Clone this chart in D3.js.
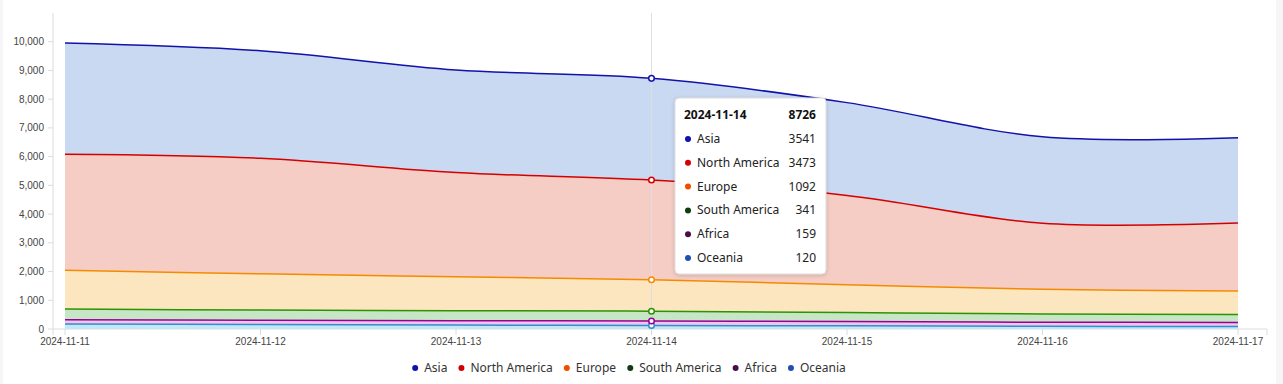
<!DOCTYPE html>
<html>
<head>
<meta charset="utf-8">
<script src="https://cdn.jsdelivr.net/npm/d3@7"></script>
<style>
  html, body { margin: 0; padding: 0; background: #f6f6f6; }
  #card { position: absolute; left: 3px; top: 0; width: 1273px; height: 384px; background: #fff; }
  svg { position: absolute; left: 0; top: 0; }
</style>
</head>
<body>
<div id="card"></div>
<svg id="chart" width="1283" height="384"></svg>
<script>
// data
const dates = ["2024-11-11", "2024-11-12", "2024-11-13", "2024-11-14", "2024-11-15", "2024-11-16", "2024-11-17"];
const asia = [3870, 3740, 3570, 3541, 3230, 3010, 2970];
const northAmerica = [4040, 4025, 3625, 3473, 3110, 2300, 2365];
const europe = [1350, 1260, 1185, 1092, 965, 855, 820];
const southAmerica = [370, 355, 345, 341, 315, 290, 275];
const africa = [150, 145, 150, 159, 150, 140, 145];
const oceania = [175, 160, 140, 120, 110, 95, 85];
const yTicks = [0, 1000, 2000, 3000, 4000, 5000, 6000, 7000, 8000, 9000, 10000];
const hoverIndex = 3;

// legend / tooltip order (top to bottom)
const series = [
  { name: "Asia", values: asia, fill: "#cad9f2", line: "#1212a8", dot: "#1010b4" },
  { name: "North America", values: northAmerica, fill: "#f6cdc4", line: "#d40000", dot: "#d20000" },
  { name: "Europe", values: europe, fill: "#fce6c0", line: "#f58a00", dot: "#f04d00" },
  { name: "South America", values: southAmerica, fill: "#c6e6c6", line: "#2b9400", dot: "#0f3c0f" },
  { name: "Africa", values: africa, fill: "#f2c4ec", line: "#960096", dot: "#4a0c4a" },
  { name: "Oceania", values: oceania, fill: "#c3e7f5", line: "#2f8fd2", dot: "#1f4fb4" },
];

const rows = dates.map((d, i) => {
  const r = { date: d3.timeParse("%Y-%m-%d")(d) };
  series.forEach((s) => (r[s.name] = s.values[i]));
  return r;
});

const svg = d3.select("#chart");

const x = d3.scaleTime()
  .domain(d3.extent(rows, (d) => d.date))
  .range([65, 1238]);
const y = d3.scaleLinear().domain([0, 11000]).range([329, 13]);

// bottom of stack is Oceania
const keys = series.map((s) => s.name).reverse();
const stacked = d3.stack().keys(keys)(rows);
const byName = Object.fromEntries(series.map((s) => [s.name, s]));

const curve = d3.curveCatmullRom.alpha(0.5);
const area = d3.area()
  .curve(curve)
  .x((d) => x(d.data.date))
  .y0((d) => y(d[0]))
  .y1((d) => y(d[1]));
const line = d3.line()
  .curve(curve)
  .x((d) => x(d.data.date))
  .y((d) => y(d[1]));

// axes
const axisColor = "#dcdcdc";
const yAxis = svg.append("g");
yAxis.append("line")
  .attr("x1", 53).attr("x2", 53).attr("y1", y(11000)).attr("y2", y(0))
  .attr("stroke", axisColor);
yAxis.selectAll("g.tick")
  .data(yTicks)
  .join("g")
  .attr("class", "tick")
  .attr("transform", (d) => `translate(0 ${y(d)})`)
  .call((g) => g.append("line").attr("x1", 48).attr("x2", 53).attr("stroke", axisColor))
  .call((g) => g.append("text")
    .attr("x", 44).attr("dy", "0.35em")
    .attr("text-anchor", "end")
    .attr("font-family", "Liberation Sans, Arial, sans-serif")
    .attr("font-size", 10)
    .attr("fill", "#444")
    .text(d3.format(",")));

const xAxis = svg.append("g").attr("transform", `translate(0 ${y(0)})`);
xAxis.append("line").attr("x1", 53).attr("x2", 1267).attr("stroke", axisColor);
[53, 1267].forEach((px) =>
  xAxis.append("line").attr("x1", px).attr("x2", px).attr("y1", 0).attr("y2", 6).attr("stroke", axisColor));
xAxis.selectAll("g.tick")
  .data(rows)
  .join("g")
  .attr("class", "tick")
  .attr("transform", (d) => `translate(${x(d.date)} 0)`)
  .call((g) => g.append("line").attr("y2", 6).attr("stroke", axisColor))
  .call((g) => g.append("text")
    .attr("y", 16)
    .attr("text-anchor", "middle")
    .attr("font-family", "Liberation Sans, Arial, sans-serif")
    .attr("font-size", 10)
    .attr("fill", "#444")
    .text((d) => d3.timeFormat("%Y-%m-%d")(d.date)));

// areas and lines
const layers = svg.append("g");
layers.selectAll("path.area")
  .data(stacked)
  .join("path")
  .attr("class", "area")
  .attr("fill", (d) => byName[d.key].fill)
  .attr("d", area);
layers.selectAll("path.line")
  .data(stacked)
  .join("path")
  .attr("class", "line")
  .attr("fill", "none")
  .attr("stroke", (d) => byName[d.key].line)
  .attr("stroke-width", 1.5)
  .attr("d", line);

// hover crosshair and markers
const hx = x(rows[hoverIndex].date);
svg.append("line")
  .attr("x1", hx).attr("x2", hx).attr("y1", y(11000)).attr("y2", y(0))
  .attr("stroke", "#dedede");
svg.append("g")
  .selectAll("circle")
  .data(stacked)
  .join("circle")
  .attr("cx", hx)
  .attr("cy", (d) => y(d[hoverIndex][1]))
  .attr("r", 2.8)
  .attr("fill", "#fff")
  .attr("stroke", (d) => byName[d.key].line)
  .attr("stroke-width", 1.5);

// tooltip
const defs = svg.append("defs");
const shadow = defs.append("filter").attr("id", "shadow").attr("x", "-20%").attr("y", "-20%").attr("width", "140%").attr("height", "140%");
shadow.append("feDropShadow").attr("dx", 0).attr("dy", 1).attr("stdDeviation", 2).attr("flood-color", "#000").attr("flood-opacity", 0.18);

const tip = svg.append("g").attr("transform", "translate(675 98)");
const tipFont = "Noto Sans, sans-serif";
tip.append("rect")
  .attr("width", 151).attr("height", 176).attr("rx", 4)
  .attr("fill", "#fff").attr("stroke", "#ddd")
  .attr("filter", "url(#shadow)");
const total = d3.sum(series, (s) => s.values[hoverIndex]);
tip.append("text")
  .attr("x", 9).attr("y", 21)
  .attr("font-family", tipFont).attr("font-size", 12).attr("font-weight", "bold")
  .attr("fill", "#111")
  .text(dates[hoverIndex]);
tip.append("text")
  .attr("x", 141).attr("y", 21).attr("text-anchor", "end")
  .attr("font-family", tipFont).attr("font-size", 12).attr("font-weight", "bold")
  .attr("fill", "#111")
  .text(total);
const tipRows = tip.selectAll("g.row")
  .data(series)
  .join("g")
  .attr("class", "row")
  .attr("transform", (d, i) => `translate(0 ${45 + i * 23.8})`);
tipRows.append("circle").attr("cx", 13).attr("cy", -4).attr("r", 3).attr("fill", (d) => d.dot);
tipRows.append("text")
  .attr("x", 22)
  .attr("font-family", tipFont).attr("font-size", 12).attr("fill", "#222")
  .text((d) => d.name);
tipRows.append("text")
  .attr("x", 141).attr("text-anchor", "end")
  .attr("font-family", tipFont).attr("font-size", 12).attr("fill", "#222")
  .text((d) => d.values[hoverIndex]);

// legend
const legend = svg.append("g").attr("transform", "translate(0 368)");
const items = legend.selectAll("g")
  .data(series)
  .join("g");
items.append("circle").attr("r", 3).attr("cy", 0).attr("fill", (d) => d.dot);
items.append("text")
  .attr("x", 9).attr("dy", "0.35em")
  .attr("font-family", tipFont).attr("font-size", 12).attr("fill", "#333")
  .text((d) => d.name);
let widths = [];
items.each(function () { widths.push(this.getBBox().width + 3); });
const gap = 8;
const totalW = d3.sum(widths) + gap * (widths.length - 1);
let cursor = 630.5 - totalW / 2 + 3;
items.attr("transform", (d, i) => {
  const t = `translate(${cursor} 0)`;
  cursor += widths[i] + gap;
  return t;
});
</script>
</body>
</html>
